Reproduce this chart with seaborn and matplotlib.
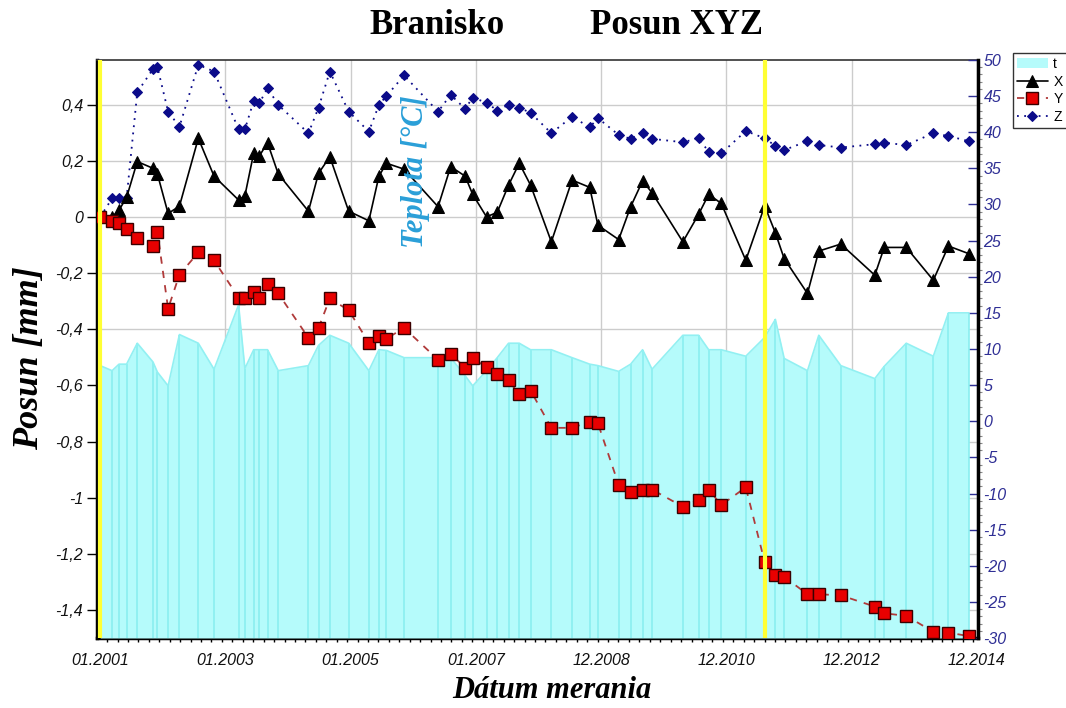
import numpy as np
import seaborn as sns
import matplotlib.pyplot as plt
from matplotlib.ticker import MultipleLocator

# Dátumy merania (desatinné roky)
dates = [2001.00, 2001.19, 2001.30, 2001.42, 2001.59, 2001.84, 2001.91,
         2002.08, 2002.26, 2002.56, 2002.81,
         2003.20, 2003.30, 2003.44, 2003.53, 2003.66, 2003.83,
         2004.31, 2004.47, 2004.65, 2004.95,
         2005.27, 2005.43, 2005.55, 2005.83,
         2006.37, 2006.57, 2006.80, 2006.92,
         2007.14, 2007.31, 2007.49, 2007.66, 2007.84,
         2008.17, 2008.50, 2008.78, 2008.91,
         2009.24, 2009.43, 2009.62, 2009.77,
         2010.26, 2010.51, 2010.67, 2010.87,
         2011.26, 2011.56, 2011.73, 2011.87,
         2012.24, 2012.42, 2012.77,
         2013.31, 2013.46, 2013.81,
         2014.24, 2014.48, 2014.80]

# Posuny [mm]
pos_x = [0.0, 0.0, 0.025, 0.07, 0.198, 0.174, 0.154, 0.013, 0.039, 0.281,
         0.146, 0.061, 0.076, 0.228, 0.218, 0.265, 0.154, 0.021, 0.156, 0.215,
         0.021, -0.013, 0.146, 0.192, 0.171, 0.037, 0.180, 0.146, 0.081, 0.001,
         0.017, 0.114, 0.192, 0.114, -0.088, 0.132, 0.106, -0.029, -0.080, 0.037,
         0.129, 0.087, -0.088, 0.010, 0.081, 0.049, -0.154, 0.040, -0.056, -0.148,
         -0.272, -0.121, -0.096, -0.207, -0.108, -0.108, -0.225, -0.103, -0.130]
pos_y = [0.0, -0.013, -0.020, -0.044, -0.076, -0.104, -0.053, -0.326, -0.205, -0.126,
         -0.154, -0.287, -0.287, -0.267, -0.290, -0.240, -0.272, -0.430, -0.395, -0.290,
         -0.332, -0.448, -0.424, -0.433, -0.395, -0.508, -0.487, -0.537, -0.503, -0.535,
         -0.558, -0.582, -0.632, -0.618, -0.751, -0.751, -0.729, -0.735, -0.954, -0.981,
         -0.971, -0.971, -1.032, -1.008, -0.971, -1.026, -0.963, -1.229, -1.275, -1.282,
         -1.344, -1.344, -1.348, -1.388, -1.412, -1.421, -1.478, -1.481, -1.493]
pos_z = [0.0, 0.067, 0.067, 0.067, 0.445, 0.528, 0.535, 0.376, 0.322, 0.543,
         0.519, 0.313, 0.313, 0.414, 0.406, 0.460, 0.400, 0.299, 0.390, 0.519,
         0.376, 0.305, 0.400, 0.432, 0.505, 0.376, 0.436, 0.386, 0.426, 0.408,
         0.380, 0.400, 0.390, 0.372, 0.299, 0.358, 0.320, 0.353, 0.293, 0.279,
         0.301, 0.279, 0.267, 0.281, 0.233, 0.227, 0.307, 0.281, 0.254, 0.239,
         0.271, 0.257, 0.248, 0.260, 0.265, 0.257, 0.299, 0.289, 0.271]

# Teplota [°C]
temp = [7.7, 7.0, 7.9, 7.9, 10.8, 8.2, 6.8, 4.9, 12.0, 10.8,
        7.2, 16.1, 7.3, 9.9, 9.9, 9.9, 7.0, 7.7, 10.5, 11.9,
        10.8, 7.0, 9.9, 9.8, 8.8, 8.8, 8.8, 6.3, 4.9, 7.0,
        8.8, 10.8, 10.8, 9.9, 9.9, 8.8, 7.9, 7.7, 6.9, 7.9,
        9.9, 7.2, 11.9, 11.9, 9.9, 9.9, 9.0, 11.6, 14.1, 8.7,
        7.0, 11.9, 7.7, 5.9, 7.6, 10.8, 9.0, 15.0, 15.0]

# Zvýraznené dátumy (žlté čiary)
mark_dates = [2001.0, 2011.56]

# Osi
x_ticks = [2001.0 + k * 1.99 for k in range(8)]
x_labels = ["01.2001", "01.2003", "01.2005", "01.2007",
            "12.2008", "12.2010", "12.2012", "12.2014"]
y_ticks = [0.4, 0.2, 0, -0.2, -0.4, -0.6, -0.8, -1, -1.2, -1.4]
y_labels = ["0,4", "0,2", "0", "-0,2", "-0,4", "-0,6", "-0,8", "-1", "-1,2", "-1,4"]
t_ticks = list(range(-30, 55, 5))

sns.set_style("white")
plt.rcParams["font.family"] = ["Liberation Sans", "DejaVu Sans"]
plt.rcParams["text.color"] = "black"
plt.rcParams["xtick.color"] = "black"
plt.rcParams["ytick.color"] = "black"

fig = plt.figure(figsize=(10.66, 7.08), dpi=100)
ax = fig.add_axes([97 / 1066, 1 - 638 / 708, 881 / 1066, 578 / 708])
axt = ax.twinx()   # teplota
axl = ax.twinx()   # posuny

xlim = (2000.95, 2014.95)
ylim = (-1.5, 0.56)

# --- základná os: mriežka + ľavá os ---
ax.set_xlim(*xlim)
ax.set_ylim(*ylim)
ax.set_xticks(x_ticks)
ax.set_xticklabels(x_labels, fontstyle="italic", fontsize=11.5, color="#111111")
ax.xaxis.set_minor_locator(MultipleLocator(1.99 / 12))
ax.set_yticks(y_ticks)
ax.set_yticklabels(y_labels, fontstyle="italic", fontsize=11.5, color="#111111")
ax.grid(True, color="#cccccc", linewidth=1)
ax.tick_params(axis="x", which="major", direction="out", length=5, width=1.2, pad=6)
ax.tick_params(axis="x", which="minor", direction="out", length=3, width=1, bottom=True)
ax.tick_params(axis="y", direction="out", length=7, width=1, left=True, pad=3)
for side in ["left", "bottom"]:
    ax.spines[side].set_linewidth(2.5)
    ax.spines[side].set_color("black")
ax.spines["top"].set_linewidth(1.2)
ax.spines["top"].set_color("#333333")

# --- teplota ---
axt.set_xlim(*xlim)
axt.set_ylim(-30, 50)
axt.fill_between(dates, -30, temp, color="#b5fbfb", linewidth=0, label="t")
axt.vlines(dates, -30, temp, color="#8aeef0", linewidth=1.2)
axt.plot(dates, temp, color="#92f0f2", linewidth=1.2)
axt.set_yticks(t_ticks)
axt.set_yticklabels([str(v) for v in t_ticks], fontstyle="italic",
                    fontsize=11.5, color="#2f2f95")
axt.yaxis.set_minor_locator(MultipleLocator(1))
axt.tick_params(axis="y", which="major", direction="in", length=7, width=1,
                color="#2f2f95", pad=4)
axt.tick_params(axis="y", which="minor", direction="out", length=3, width=0.8,
                color="#888888", right=True)
axt.spines["right"].set_linewidth(2.5)
axt.spines["right"].set_color("black")
for side in ["left", "top", "bottom"]:
    axt.spines[side].set_visible(False)

# --- posuny ---
axl.set_xlim(*xlim)
sns.lineplot(x=dates, y=pos_z, ax=axl, color="#0b0b8a", linestyle=(0, (1, 3)),
             linewidth=1.3, marker="D", markersize=5.5, markeredgecolor="#0b0b8a",
             errorbar=None, label="Z")
sns.lineplot(x=dates, y=pos_x, ax=axl, color="black", linewidth=1.2,
             marker="^", markersize=8, markeredgecolor="black",
             errorbar=None, label="X")
sns.lineplot(x=dates, y=pos_y, ax=axl, color="#b03a3a", linestyle=(0, (4, 4)),
             linewidth=1.3, marker="s", markersize=8.5, markerfacecolor="#e80000",
             markeredgecolor="#3a0000", markeredgewidth=1,
             errorbar=None, label="Y")
axl.set_ylim(*ylim)
axl.set_yticks([])
axl.set_ylabel("")
for side in ["left", "right", "top", "bottom"]:
    axl.spines[side].set_visible(False)
if axl.get_legend() is not None:
    axl.get_legend().remove()

for d in mark_dates:
    axl.axvline(d, color="#ffff33", linewidth=3, zorder=10)

# --- popisy ---
serif = ["Liberation Serif", "DejaVu Serif"]
fig.text(437 / 1066, 1 - 25 / 708, "Branisko", family=serif, fontweight="bold",
         fontsize=25, ha="center", va="center", color="black")
fig.text(676 / 1066, 1 - 25 / 708, "Posun XYZ", family=serif, fontweight="bold",
         fontsize=25, ha="center", va="center", color="black")
fig.text(30 / 1066, 1 - 358 / 708, "Posun [mm]", family=serif, fontweight="bold",
         fontstyle="italic", fontsize=26, rotation=90, ha="center", va="center",
         color="black")
fig.text(552 / 1066, 1 - 690 / 708, "Dátum merania", family=serif, fontweight="bold",
         fontstyle="italic", fontsize=22, ha="center", va="center", color="black")
fig.text(415 / 1066, 1 - 172 / 708, "Teplota [°C]", family=serif, fontweight="bold",
         fontstyle="italic", fontsize=22, rotation=90, ha="center", va="center",
         color="#2a9fd8")

# --- legenda ---
h_t, l_t = axt.get_legend_handles_labels()
h_l, l_l = axl.get_legend_handles_labels()
handles = dict(zip(l_t + l_l, h_t + h_l))
order = ["t", "X", "Y", "Z"]
leg = fig.legend([handles[k] for k in order], order, loc="upper left",
                 bbox_to_anchor=(1013 / 1066, 1 - 53 / 708), frameon=True,
                 fancybox=False, edgecolor="black", fontsize=10,
                 handlelength=2.2, borderpad=0.3, labelspacing=0.25,
                 handletextpad=0.4, borderaxespad=0)
leg.get_frame().set_linewidth(1)

fig.savefig("out.png", dpi=100)
